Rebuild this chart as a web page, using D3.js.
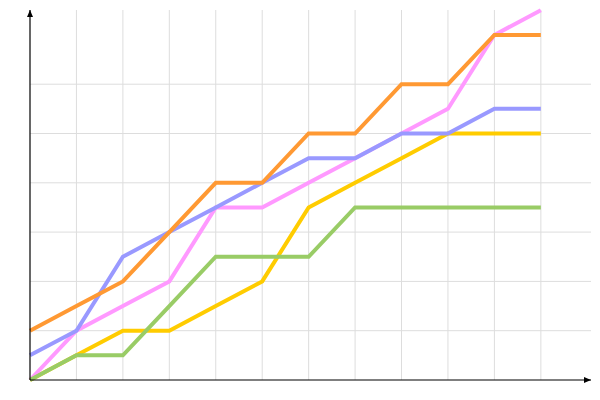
<!DOCTYPE html>
<html><head><meta charset="utf-8">
<script src="https://cdn.jsdelivr.net/npm/d3@7"></script>
<style>body{margin:0;background:#fff}svg{display:block}</style>
</head><body>
<svg id="c" width="600" height="400"></svg>
<script>
const xs = [0,1,2,3,4,5,6,7,8,9,10,11];
const yellow = [0,1,2,2,3,4,7,8,9,10,10,10];
const pink   = [0,2,3,4,7,7,8,9,10,11,14,15];
const blue   = [1,2,5,6,7,8,9,9,10,10,11,11];
const green  = [0,1,1,3,5,5,5,7,7,7,7,7];
const orange = [2,3,4,6,8,8,10,10,12,12,14,14];
const xGrid = [1,2,3,4,5,6,7,8,9,10,11];
const yGrid = [2,4,6,8,10,12];

const seriesList = [
  {vals: yellow, color: "#ffcc00"},
  {vals: pink,   color: "#ff99ff"},
  {vals: blue,   color: "#9999ff"},
  {vals: green,  color: "#99cc66"},
  {vals: orange, color: "#ff9933"}
];

const svg = d3.select("#c");
const x = d3.scaleLinear().domain([0, 12.08]).range([30, 591]);
const y = d3.scaleLinear().domain([0, 15]).range([380, 10.25]);

const g = svg.append("g");
g.selectAll("line.vg").data(xGrid).enter().append("line")
  .attr("x1", d => x(d)).attr("x2", d => x(d))
  .attr("y1", 10).attr("y2", 380)
  .attr("stroke", "#dddddd").attr("stroke-width", 1);
g.selectAll("line.hg").data(yGrid).enter().append("line")
  .attr("x1", 30).attr("x2", 591)
  .attr("y1", d => y(d)).attr("y2", d => y(d))
  .attr("stroke", "#dddddd").attr("stroke-width", 1);

const line = d3.line().x((d, i) => x(xs[i])).y(d => y(d));
seriesList.forEach(s => {
  svg.append("path").datum(s.vals)
    .attr("d", line)
    .attr("fill", "none")
    .attr("stroke", s.color)
    .attr("stroke-width", 4)
    .attr("stroke-linejoin", "miter");
});

// axes
svg.append("line").attr("x1", 30).attr("x2", 30).attr("y1", 10).attr("y2", 380)
  .attr("stroke", "#000").attr("stroke-width", 1.2);
svg.append("line").attr("x1", 30).attr("x2", 591).attr("y1", 380).attr("y2", 380)
  .attr("stroke", "#000").attr("stroke-width", 1.2);
svg.append("path").attr("d", "M30,10 L27,17 L33,17 Z").attr("fill", "#000");
svg.append("path").attr("d", "M591,380 L584,377 L584,383 Z").attr("fill", "#000");
</script>
</body></html>
